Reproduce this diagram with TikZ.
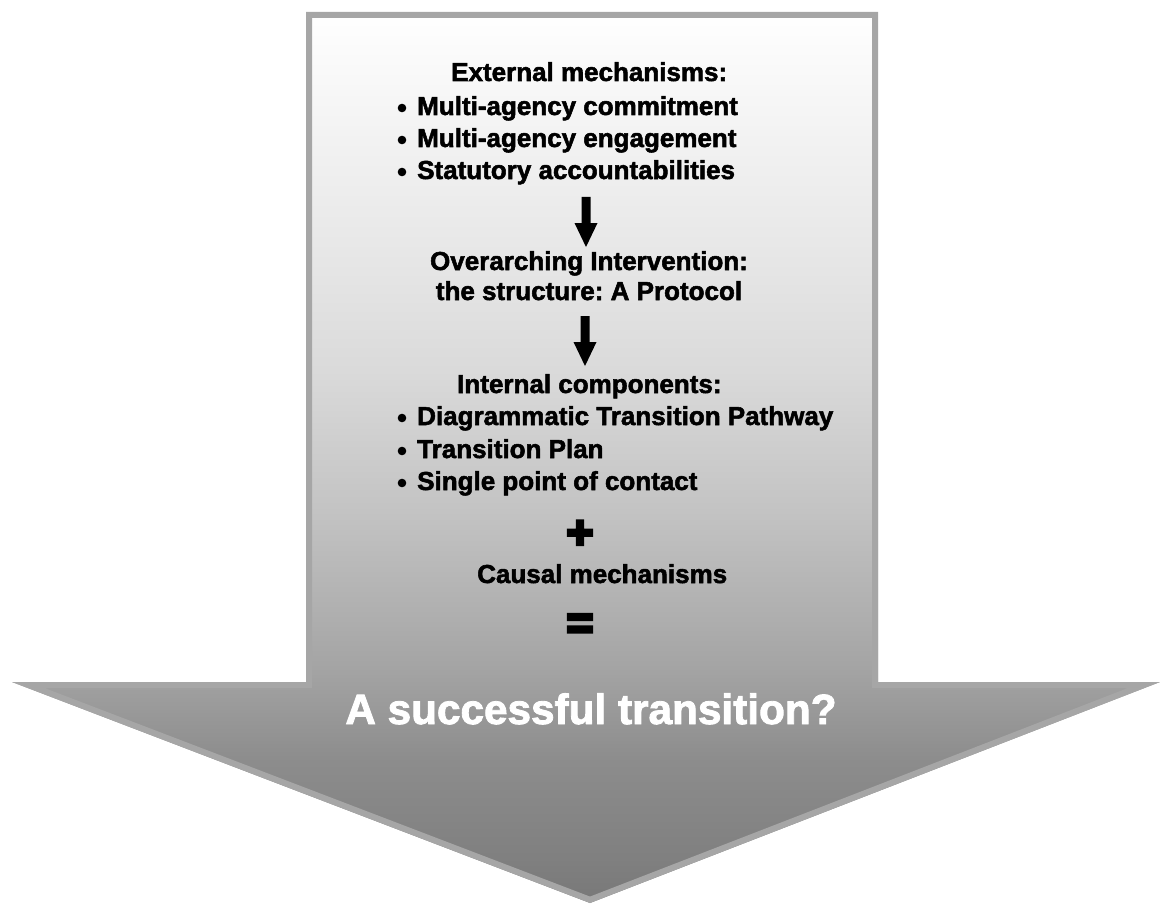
\documentclass[tikz,border=0pt]{standalone}
\usepackage{fontspec}
\setmainfont{Liberation Sans}[BoldFeatures={FakeBold=2}]
\newfontfamily\opfont{Liberation Sans Bold}[FakeBold=7]
\frenchspacing
\definecolor{rimgray}{RGB}{166,166,166}
% vertical fill: bottom of the outline at 25bp, top at 75bp
\pgfdeclareverticalshading{bigfill}{100bp}{
  color(0bp)=(white!47!black);
  color(25bp)=(white!47!black);
  color(27.4bp)=(white!50!black);
  color(33bp)=(white!55!black);
  color(38bp)=(white!64!black);
  color(42.6bp)=(white!70.6!black);
  color(47bp)=(white!76.5!black);
  color(54.9bp)=(white!85.5!black);
  color(61bp)=(white!90.2!black);
  color(67.8bp)=(white!94.9!black);
  color(73.4bp)=(white!98.8!black);
  color(75bp)=(white);
  color(100bp)=(white)}
\newcommand\bigarrowoutline{(306,12) -- (878,12) -- (878,682) -- (1160,682) -- (590,903) -- (12,682) -- (306,682) -- cycle}
\tikzset{
  txt/.style={inner sep=0pt, font=\bfseries\fontsize{26}{31}\selectfont, text=black},
  bigtxt/.style={inner sep=0pt, font=\bfseries\fontsize{42.3}{50}\selectfont, text=white},
  optxt/.style={inner sep=0pt, font=\opfont\fontsize{46}{50}\selectfont, text=black},
  dot/.style={fill=black},
  downarrow/.pic={\fill[black] (-4.5,0) -- (4.5,0) -- (4.5,26) -- (11.5,26) -- (0,50) -- (-11.5,26) -- (-4.5,26) -- cycle;}
}
\begin{document}
\begin{tikzpicture}[x=1pt, y=-1pt]
\useasboundingbox (0,0) rectangle (1161,904);
% the large shaded block arrow with its light rim
\begin{scope}
  \clip \bigarrowoutline;
  \shade[shading=bigfill] \bigarrowoutline;
  \draw[line width=12, rimgray] \bigarrowoutline;
\end{scope}

% external mechanisms
\node[txt, anchor=base west] (ext) at (451,81) {External mechanisms:};
\node[txt, anchor=base west] (em1) at (417,115) {Multi-agency commitment};
\node[txt, anchor=base west] (em2) at (417,147) {Multi-agency engagement};
\node[txt, anchor=base west] (em3) at (417,179) {Statutory accountabilities};
\foreach \yy in {108,140,172} \fill[dot] (402,\yy) circle[radius=4.3pt];

\pic at (586,197) {downarrow};

% overarching intervention
\node[txt, anchor=base] (over1) at (589,270) {Overarching Intervention:};
\node[txt, anchor=base] (over2) at (589,300) {the structure: A Protocol};

\pic at (585,316) {downarrow};

% internal components
\node[txt, anchor=base west] (int) at (457,393) {Internal components:};
\node[txt, anchor=base west] (ic1) at (417,425) {Diagrammatic Transition Pathway};
\node[txt, anchor=base west] (ic2) at (417,458) {Transition Plan};
\node[txt, anchor=base west] (ic3) at (417,490) {Single point of contact};
\foreach \yy in {418,451,483} \fill[dot] (402,\yy) circle[radius=4.3pt];

\node[optxt] (plus) at (580,534.5) {+};
\node[txt, anchor=base west] (causal) at (477,583) {Causal mechanisms};
\node[optxt] (eq) at (580,626.5) {=};

\node[bigtxt, anchor=base] (result) at (591,724) {A successful transition?};
\end{tikzpicture}
\end{document}
